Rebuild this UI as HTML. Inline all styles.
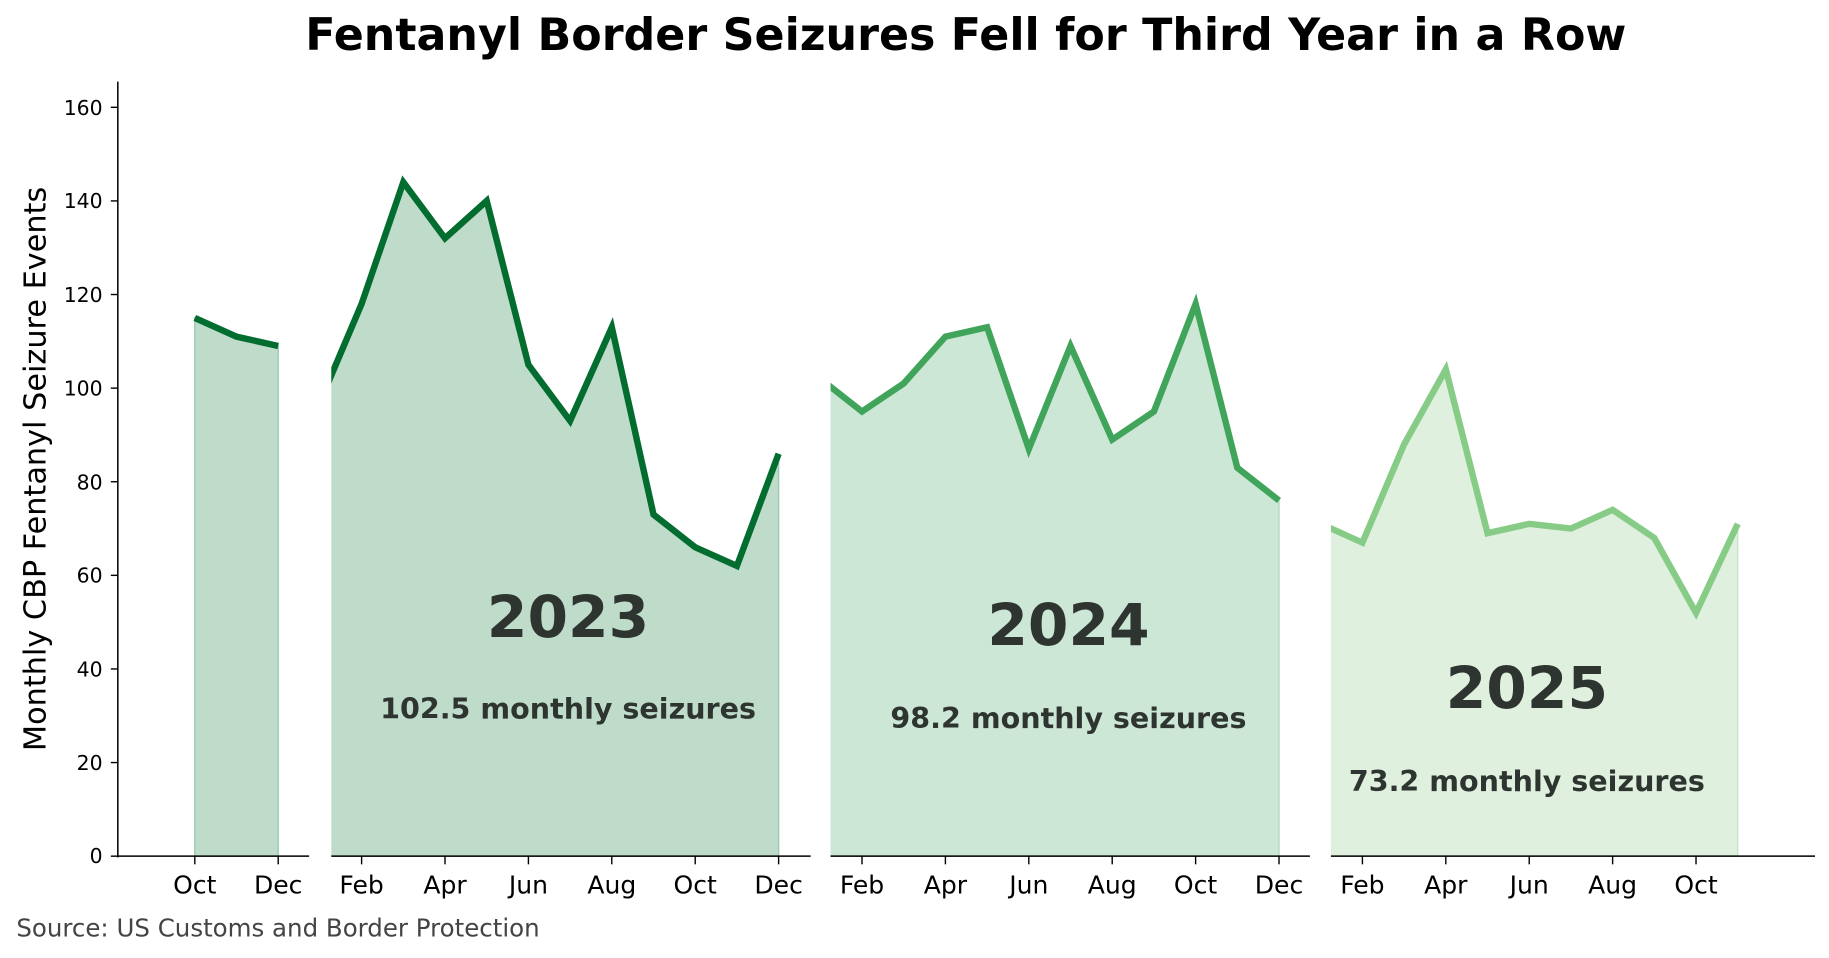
<!DOCTYPE html>
<html><head><meta charset="utf-8"><style>
html,body{margin:0;padding:0;background:#fff;}
svg{display:block;}
text{font-family:"DejaVu Sans","Liberation Sans",sans-serif;}
</style></head><body>
<svg width="1829" height="958" viewBox="0 0 1568 821.3" xmlns="http://www.w3.org/2000/svg">
<rect width="1568" height="821.3" fill="#fff"/>
<text x="828" y="43" text-anchor="middle" font-size="38" font-weight="bold">Fentanyl Border Seizures Fell for Third Year in a Row</text>

<polygon fill="#bfdccb" stroke="#9ccab0" stroke-width="1.2" points="167,272.55 202.75,288.6 238.5,296.6 238.5,734 167,734"/>
<polygon fill="#bfdccb" stroke="#9ccab0" stroke-width="1.2" points="274.25,344.8 310,260.5 345.75,156.2 381.5,204.3 417.25,172.2 453,312.7 488.75,360.8 524.5,280.6 560.25,441.1 596,469.2 631.75,485.2 667.5,389 667.5,734 274.25,734"/>
<polygon fill="#cde7d6" stroke="#b0dabe" stroke-width="1.2" points="703.25,324.7 739,352.8 774.75,328.7 810.5,288.6 846.25,280.6 882,384.9 917.75,296.6 953.5,376.9 989.25,352.8 1025,260.5 1060.75,401 1096.5,429.1 1096.5,734 703.25,734"/>
<polygon fill="#dff0de" stroke="#c6e6c7" stroke-width="1.2" points="1132.25,449.1 1168,465.2 1203.75,380.9 1239.5,316.7 1275.25,457.1 1311,449.1 1346.75,453.1 1382.5,437.1 1418.25,461.2 1454,525.4 1489.75,449.1 1489.75,734 1132.25,734"/>

<g fill="none" stroke-width="5.5" stroke-linejoin="miter">
<polyline stroke="#036c2f" points="167,272.55 202.75,288.6 238.5,296.6"/>
<polyline stroke="#036c2f" points="274.25,344.8 310,260.5 345.75,156.2 381.5,204.3 417.25,172.2 453,312.7 488.75,360.8 524.5,280.6 560.25,441.1 596,469.2 631.75,485.2 667.5,389"/>
<polyline stroke="#40a55a" points="703.25,324.7 739,352.8 774.75,328.7 810.5,288.6 846.25,280.6 882,384.9 917.75,296.6 953.5,376.9 989.25,352.8 1025,260.5 1060.75,401 1096.5,429.1"/>
<polyline stroke="#87cc86" points="1132.25,449.1 1168,465.2 1203.75,380.9 1239.5,316.7 1275.25,457.1 1311,449.1 1346.75,453.1 1382.5,437.1 1418.25,461.2 1454,525.4 1489.75,449.1"/>
</g>

<line x1="101" y1="70" x2="101" y2="735" stroke="#000" stroke-width="1.3"/>
<line x1="100.4" y1="734" x2="1556" y2="734" stroke="#000" stroke-width="1.3"/>

<rect x="265" y="60" width="19" height="677" fill="#fff"/>
<rect x="695" y="60" width="17" height="677" fill="#fff"/>
<rect x="1123" y="60" width="18" height="677" fill="#fff"/>

<g stroke="#000" stroke-width="1.2">
<line x1="95" y1="734" x2="101" y2="734"/><line x1="95" y1="653.75" x2="101" y2="653.75"/>
<line x1="95" y1="573.5" x2="101" y2="573.5"/><line x1="95" y1="493.25" x2="101" y2="493.25"/>
<line x1="95" y1="413" x2="101" y2="413"/><line x1="95" y1="332.75" x2="101" y2="332.75"/>
<line x1="95" y1="252.5" x2="101" y2="252.5"/><line x1="95" y1="172.25" x2="101" y2="172.25"/>
<line x1="95" y1="92" x2="101" y2="92"/>
</g>
<g font-size="17.5" text-anchor="end">
<text x="88" y="740">0</text><text x="88" y="660">20</text><text x="88" y="580">40</text>
<text x="88" y="499.5">60</text><text x="88" y="419.5">80</text><text x="88" y="339">100</text>
<text x="88" y="259">120</text><text x="88" y="178.5">140</text><text x="88" y="98.5">160</text>
</g>
<text transform="translate(39,402) rotate(-90)" text-anchor="middle" font-size="26">Monthly CBP Fentanyl Seizure Events</text>

<g stroke="#000" stroke-width="1.2">
<line x1="167" y1="734" x2="167" y2="741"/><line x1="238.5" y1="734" x2="238.5" y2="741"/>
<line x1="310" y1="734" x2="310" y2="741"/><line x1="381.5" y1="734" x2="381.5" y2="741"/>
<line x1="453" y1="734" x2="453" y2="741"/><line x1="524.5" y1="734" x2="524.5" y2="741"/>
<line x1="596" y1="734" x2="596" y2="741"/><line x1="667.5" y1="734" x2="667.5" y2="741"/>
<line x1="739" y1="734" x2="739" y2="741"/><line x1="810.5" y1="734" x2="810.5" y2="741"/>
<line x1="882" y1="734" x2="882" y2="741"/><line x1="953.5" y1="734" x2="953.5" y2="741"/>
<line x1="1025" y1="734" x2="1025" y2="741"/><line x1="1096.5" y1="734" x2="1096.5" y2="741"/>
<line x1="1168" y1="734" x2="1168" y2="741"/><line x1="1239.5" y1="734" x2="1239.5" y2="741"/>
<line x1="1311" y1="734" x2="1311" y2="741"/><line x1="1382.5" y1="734" x2="1382.5" y2="741"/>
<line x1="1454" y1="734" x2="1454" y2="741"/>
</g>
<g font-size="21.5" text-anchor="middle">
<text x="167" y="766">Oct</text><text x="238.5" y="766">Dec</text><text x="310" y="766">Feb</text>
<text x="381.5" y="766">Apr</text><text x="453" y="766">Jun</text><text x="524.5" y="766">Aug</text>
<text x="596" y="766">Oct</text><text x="667.5" y="766">Dec</text><text x="739" y="766">Feb</text>
<text x="810.5" y="766">Apr</text><text x="882" y="766">Jun</text><text x="953.5" y="766">Aug</text>
<text x="1025" y="766">Oct</text><text x="1096.5" y="766">Dec</text><text x="1168" y="766">Feb</text>
<text x="1239.5" y="766">Apr</text><text x="1311" y="766">Jun</text><text x="1382.5" y="766">Aug</text>
<text x="1454" y="766">Oct</text>
</g>

<g fill="#2e3530" font-weight="bold" text-anchor="middle">
<text x="487" y="546" font-size="50">2023</text>
<text x="487" y="616" font-size="24.5">102.5 monthly seizures</text>
<text x="916" y="553" font-size="50">2024</text>
<text x="916" y="624" font-size="24.5">98.2 monthly seizures</text>
<text x="1309" y="607" font-size="50">2025</text>
<text x="1309" y="678" font-size="24.5">73.2 monthly seizures</text>
</g>

<text x="14" y="803" font-size="21" fill="#444">Source: US Customs and Border Protection</text>
</svg>
</body></html>
